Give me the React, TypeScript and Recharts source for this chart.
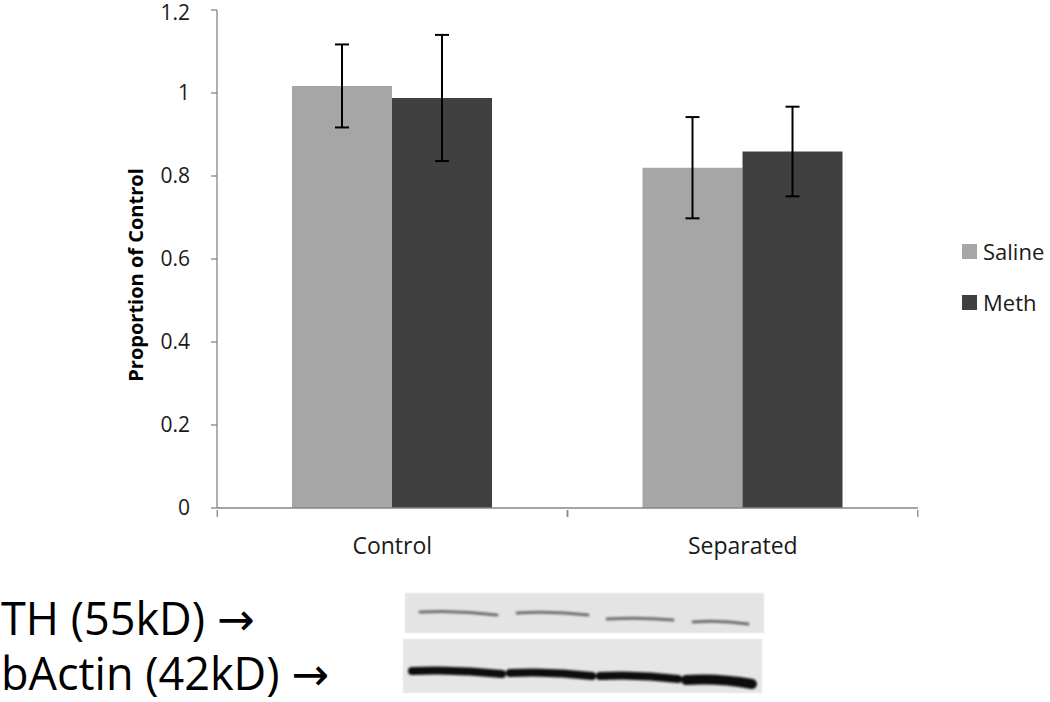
import React from "react";
import { BarChart, Bar, XAxis, YAxis, ErrorBar } from "recharts";

const groups = ["Control", "Separated"];
const saline = [1.017, 0.82];
const meth = [0.988, 0.859];
const salineErr = [0.1, 0.122];
const methErr = [0.152, 0.108];
const yTicks = [0, 0.2, 0.4, 0.6, 0.8, 1, 1.2];
const seriesNames = ["Saline", "Meth"];
const seriesColors = ["#a6a6a6", "#404040"];

const data = groups.map((g, i) => ({
  group: g,
  saline: saline[i],
  meth: meth[i],
  salineErr: salineErr[i],
  methErr: methErr[i],
}));

const FONT = "'Open Sans', 'DejaVu Sans', sans-serif";
const AXIS = "#868686";
const BAND = 350;

const XTick = ({ x, y, payload }: any) => (
  <g>
    <line x1={x - BAND / 2} x2={x - BAND / 2} y1={y} y2={y + 7} stroke={AXIS} strokeWidth={1.3} />
    <line x1={x + BAND / 2} x2={x + BAND / 2} y1={y} y2={y + 7} stroke={AXIS} strokeWidth={1.3} />
    <text x={x} y={y + 44} textAnchor="middle" fontSize={23} fill="#1a1a1a" fontFamily={FONT}>
      {payload.value}
    </text>
  </g>
);

const YLabel = ({ viewBox }: any) => {
  const cx = viewBox.x + 135;
  const cy = viewBox.y + viewBox.height / 2 + 16;
  return (
    <text
      x={cx}
      y={cy}
      transform={`rotate(-90 ${cx} ${cy})`}
      textAnchor="middle"
      dominantBaseline="central"
      fontSize={20}
      fontWeight={700}
      fontFamily={FONT}
      fill="#000"
    >
      Proportion of Control
    </text>
  );
};

const LegendBox = () => (
  <div style={{ position: "absolute", left: 962, top: 244, fontFamily: FONT }}>
    {seriesNames.map((n, i) => (
      <div key={n} style={{ display: "flex", alignItems: "center", height: 15, marginBottom: 36 }}>
        <span style={{ width: 15, height: 15, background: seriesColors[i], marginRight: 6 }} />
        <span style={{ fontSize: 22, color: "#1a1a1a", lineHeight: "15px" }}>{n}</span>
      </div>
    ))}
  </div>
);

const Blot = () => {
  const top = [
    [420, 611, 497, 615],
    [517, 612, 588, 615],
    [607, 618, 673, 620],
    [693, 621, 748, 624],
  ];
  const bottom = [
    [412, 671, 502, 674, 8],
    [510, 673, 592, 676, 8],
    [600, 676, 678, 679, 8],
    [686, 680, 752, 684, 10],
  ];
  return (
    <svg width={1050} height={132} style={{ position: "absolute", left: 0, top: 570 }} viewBox="0 570 1050 132">
      <defs>
        <filter id="blur" x="-10%" y="-50%" width="120%" height="200%">
          <feGaussianBlur stdDeviation="1.2" />
        </filter>
      </defs>
      <rect x={405} y={593} width={359} height={40} fill="#e4e4e4" stroke="#f2f2f2" />
      <rect x={403} y={639} width={359} height={54} fill="#e6e6e6" stroke="#f2f2f2" />
      <g filter="url(#blur)" strokeLinecap="round" fill="none">
        {top.map(([x1, y1, x2, y2], i) => (
          <path key={i} d={`M${x1},${y1 + 1} Q${(x1 + x2) / 2},${y1 - 1} ${x2},${y2}`} stroke="#6e6e6e" strokeWidth={3} />
        ))}
        {bottom.map(([x1, y1, x2, y2, w], i) => (
          <path key={i} d={`M${x1},${y1} Q${(x1 + x2) / 2},${y1 - 2} ${x2},${y2}`} stroke="#111" strokeWidth={w} />
        ))}
      </g>
      <text x={1} y={635} fontSize={45} fontFamily={FONT} fill="#000">TH (55kD) →</text>
      <text x={1} y={690} fontSize={45} fontFamily={FONT} fill="#000">bActin (42kD) →</text>
    </svg>
  );
};

export default function App() {
  return (
    <div style={{ position: "absolute", left: 0, top: 0, width: 1050, height: 702, background: "#fff", fontFamily: FONT }}>
      <BarChart
        width={1050}
        height={560}
        data={data}
        margin={{ top: 10, right: 132, left: 0, bottom: 0 }}
        barCategoryGap="21.4%"
        barGap={0}
      >
        <XAxis
          dataKey="group"
          height={52}
          axisLine={{ stroke: AXIS, strokeWidth: 1.3 }}
          tickLine={false}
          tickSize={0}
          tick={<XTick />}
          interval={0}
        />
        <YAxis
          width={217}
          domain={[0, 1.2]}
          ticks={yTicks}
          axisLine={{ stroke: AXIS, strokeWidth: 1.3 }}
          tickLine={{ stroke: AXIS, strokeWidth: 1.3 }}
          tickSize={6}
          tickMargin={21}
          tick={{ fontSize: 21, fill: "#1a1a1a", fontFamily: FONT }}
          label={<YLabel />}
        />
        <Bar dataKey="saline" name={seriesNames[0]} fill={seriesColors[0]} isAnimationActive={false}>
          <ErrorBar dataKey="salineErr" width={7} stroke="#000" strokeWidth={2} />
        </Bar>
        <Bar dataKey="meth" name={seriesNames[1]} fill={seriesColors[1]} isAnimationActive={false}>
          <ErrorBar dataKey="methErr" width={7} stroke="#000" strokeWidth={2} />
        </Bar>
      </BarChart>
      <LegendBox />
      <Blot />
    </div>
  );
}
